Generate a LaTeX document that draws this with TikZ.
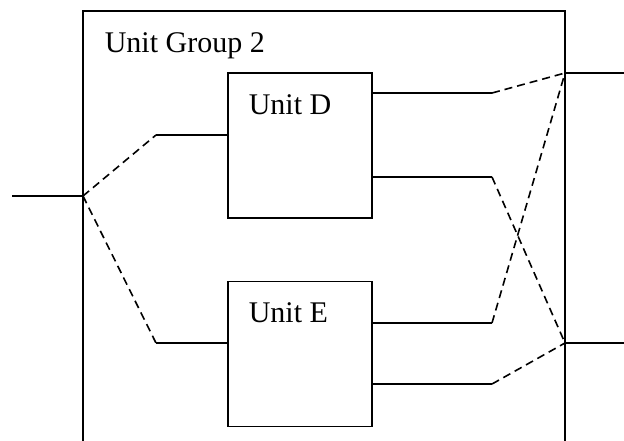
\documentclass[tikz,border=0pt]{standalone}
\usepackage{fontspec}
\setmainfont{Liberation Serif}
\begin{document}
\begin{tikzpicture}[x=1pt,y=-1pt,line width=1.6pt,
  unitbox/.style={draw,minimum width=144pt,minimum height=145pt,inner sep=0pt},
  lbl/.style={anchor=base west,inner sep=0pt,font=\fontsize{30}{36}\selectfont},
  dsh/.style={dash pattern=on 8pt off 5pt}]
\useasboundingbox (0,0) rectangle (624,441);
% group frame (open at bottom)
\draw (83,441) -- (83,11) -- (565,11) -- (565,441);
\node[lbl] (glbl) at (104,53) {Unit Group 2};
% units
\node[unitbox] (D) at (300,145.5) {};
\node[unitbox] (E) at (300,354) {};
\node[lbl] (dlbl) at (248,115) {Unit D};
\node[lbl] (elbl) at (248,322) {Unit E};
% junctions and bends
\coordinate (inL) at (83,196);
\coordinate (inStub) at (12,196);
\coordinate (outA) at (565,73);
\coordinate (outAStub) at (624,73);
\coordinate (outB) at (565,343);
\coordinate (outBStub) at (624,343);
\coordinate (bD) at (156,135);
\coordinate (bE) at (156,343);
\coordinate (d1) at (492,93);
\coordinate (d2) at (492,177);
\coordinate (e1) at (492,323);
\coordinate (e2) at (492,384);
% input side
\draw (inStub) -- (inL);
\draw[dsh] (inL) -- (bD);
\draw[dsh] (inL) -- (bE);
\draw (bD) -- (bD -| D.west);
\draw (bE) -- (bE -| E.west);
% output side
\draw (d1 -| D.east) -- (d1);
\draw (d2 -| D.east) -- (d2);
\draw (e1 -| E.east) -- (e1);
\draw (e2 -| E.east) -- (e2);
\draw[dsh] (d1) -- (outA);
\draw[dsh] (e1) -- (outA);
\draw[dsh] (d2) -- (outB);
\draw[dsh] (e2) -- (outB);
\draw (outA) -- (outAStub);
\draw (outB) -- (outBStub);
\end{tikzpicture}
\end{document}
